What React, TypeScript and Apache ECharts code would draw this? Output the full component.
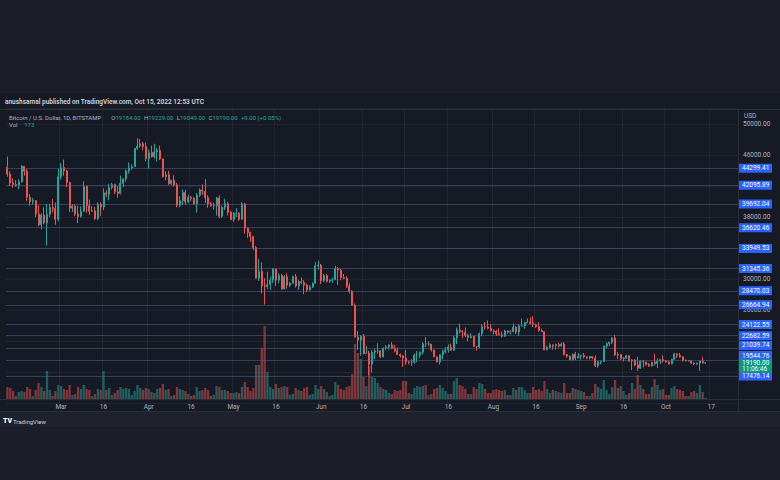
import React, { useEffect, useRef } from "react";
import * as echarts from "echarts";

// ---------- data ----------
const startDate = "2022-02-10";
const axisDays = 259; // Feb 10 .. Oct 26 (empty days to the right)

// [open, high, low, close]
const febOHLC = [
  [44400, 45800, 43200, 43550], [43550, 43900, 42000, 42400], [42400, 43000, 41800, 42200],
  [42200, 42750, 41900, 42100], [42100, 42850, 41600, 42550], [42550, 44700, 42450, 44550],
  [44550, 44550, 43350, 43900], [43900, 44200, 40100, 40550], [40550, 40950, 39450, 40000],
  [40000, 40450, 39650, 40100], [40100, 40150, 38000, 38400], [38400, 39500, 36800, 37000],
  [37000, 38450, 36400, 38250], [38250, 39250, 37050, 37250], [37250, 39700, 34300, 38350],
  [38350, 39700, 38000, 39250], [39250, 40300, 38600, 39100], [39100, 39850, 37000, 37700],
  [37700, 44200, 37450, 43200],
];
const marOHLC = [
  [43200, 44950, 42850, 44400], [44400, 45400, 43350, 43950], [43950, 44100, 41850, 42450],
  [42450, 42550, 38650, 39150], [39150, 39650, 38650, 39400], [39400, 39650, 38100, 38400],
  [38400, 39450, 37200, 38050], [38050, 39350, 37900, 38750], [38750, 42600, 38650, 41950],
  [41950, 42050, 38550, 39450], [39450, 40250, 38250, 38750], [38750, 39400, 38700, 38800],
  [38800, 39300, 37600, 37800], [37800, 39900, 37600, 39650], [39650, 39900, 38150, 39300],
  [39300, 41700, 38900, 41100], [41100, 41450, 40550, 40950], [40950, 42300, 40150, 41800],
  [41800, 42400, 41550, 42200], [42200, 42300, 40950, 41250], [41250, 42000, 40500, 41050],
  [41050, 43350, 40900, 42350], [42350, 43000, 41850, 42900], [42900, 44150, 42550, 43950],
  [43950, 45050, 43600, 44350], [44350, 44800, 44100, 44500], [44500, 46900, 44450, 46850],
  [46850, 48150, 46650, 47150], [47150, 48100, 46950, 47450], [47450, 47700, 46600, 47100],
  [47100, 47600, 45200, 45550],
];
const aprOHLC = [
  [45550, 46700, 44250, 46300], [46300, 47200, 45650, 45800], [45800, 47450, 45550, 46400],
  [46400, 46900, 45150, 46600], [46600, 47200, 45350, 45500], [45500, 45500, 43100, 43200],
  [43200, 43900, 42750, 43450], [43450, 43950, 42150, 42300], [42300, 42800, 42150, 42750],
  [42750, 43400, 41900, 42150], [42150, 42400, 39250, 39500], [39500, 40700, 39250, 40100],
  [40100, 41550, 39550, 41150], [41150, 41500, 39600, 39950], [39950, 40850, 39800, 40550],
  [40550, 40700, 40050, 40400], [40400, 40600, 39600, 39700], [39700, 41100, 38550, 40800],
  [40800, 41700, 40600, 41500], [41500, 42200, 40850, 41350], [41350, 42900, 39800, 40500],
  [40500, 40800, 39200, 39700], [39700, 39950, 39350, 39450], [39450, 39850, 38950, 39450],
  [39450, 40600, 38200, 40450], [40450, 40800, 37850, 38100], [38100, 39450, 37900, 39250],
  [39250, 40350, 38900, 39750], [39750, 39950, 38200, 38600], [38600, 38800, 37600, 37650],
];
const mayOHLC = [
  [37650, 38650, 37400, 38450], [38450, 39150, 38000, 38500], [38500, 38650, 37500, 37700],
  [37700, 39900, 37650, 39700], [39700, 39800, 35850, 36550], [36550, 36650, 35300, 36000],
  [36000, 36100, 34800, 35500], [35500, 35500, 33700, 34050], [34050, 34250, 30050, 30100],
  [30100, 32600, 29750, 31000], [31000, 32150, 28150, 29100], [29100, 30100, 26700, 29050],
  [29050, 30950, 28700, 29300], [29300, 30300, 28600, 29850], [29850, 31400, 29500, 31300],
  [31300, 31300, 29100, 29850], [29850, 30750, 29450, 30450], [30450, 30650, 28650, 28700],
  [28700, 30500, 28700, 30300], [30300, 30750, 28750, 29200], [29200, 29600, 28950, 29450],
  [29450, 30450, 29450, 30300], [30300, 30650, 28900, 29100], [29100, 29850, 28600, 29650],
  [29650, 30200, 29350, 29550], [29550, 29850, 28050, 29200], [29200, 29400, 28300, 28600],
  [28600, 29200, 28500, 28950], [28950, 29550, 28850, 29450], [29450, 32200, 29350, 31700],
  [31700, 32350, 31200, 31800],
];
const junOHLC = [
  [31800, 31950, 29350, 29800], [29800, 30650, 29600, 30450], [30450, 30650, 29550, 29700],
  [29700, 29950, 29500, 29850], [29850, 30150, 29500, 29900], [29900, 31700, 29900, 31350],
  [31350, 31550, 29250, 31150], [31150, 31300, 29850, 30200], [30200, 30650, 29950, 30100],
  [30100, 30350, 28850, 29100], [29100, 29450, 28150, 28400], [28400, 28550, 26600, 26600],
  [26600, 26850, 22600, 22500], [22500, 23300, 20850, 22100], [22100, 22750, 20100, 22600],
  [22600, 22900, 20250, 20400], [20400, 21350, 20300, 20450], [20450, 20750, 17600, 19000],
  [19000, 20800, 17950, 20550], [20550, 21000, 19650, 20700], [20700, 21700, 20350, 20700],
  [20700, 20850, 19800, 19950], [19950, 21150, 19900, 21100], [21100, 21500, 20850, 21250],
  [21250, 21550, 20900, 21500], [21500, 21850, 20950, 21050], [21050, 21500, 20550, 20750],
  [20750, 21150, 20200, 20250], [20250, 20400, 19850, 20100], [20100, 20150, 18650, 19800],
];
const julOHLC = [
  [19800, 20850, 18950, 19300], [19300, 19450, 19000, 19250], [19250, 19650, 18800, 19300],
  [19300, 20350, 19050, 20200], [20200, 20700, 19300, 20200], [20200, 20650, 19800, 20550],
  [20550, 21850, 20250, 21650], [21650, 22500, 21200, 21600], [21600, 21950, 21350, 21600],
  [21600, 21600, 20650, 20850], [20850, 20850, 19900, 19950], [19950, 20050, 19250, 19300],
  [19300, 20300, 18950, 20250], [20250, 20900, 19650, 20600], [20600, 21200, 20400, 20850],
  [20850, 21550, 20500, 21200], [21200, 21650, 20750, 20800], [20800, 22700, 20750, 22400],
  [22400, 23750, 21600, 23400], [23400, 24250, 22950, 23250], [23250, 23400, 22350, 23150],
  [23150, 23750, 22500, 22700], [22700, 22950, 21950, 22450], [22450, 23000, 22300, 22600],
  [22600, 22650, 21250, 21300], [21300, 21350, 20750, 21250], [21250, 23100, 21050, 22950],
  [22950, 24200, 22600, 23850], [23850, 24450, 23450, 23800], [23800, 24650, 23500, 23650],
  [23650, 24200, 23250, 23300],
];
const augOHLC = [
  [23300, 23500, 22850, 23250], [23250, 23450, 22650, 22950], [22950, 23650, 22700, 22800],
  [22800, 23200, 22450, 22600], [22600, 23450, 22600, 23300], [23300, 23350, 22950, 23150],
  [23150, 23400, 22850, 23200], [23200, 24250, 23150, 23800], [23800, 23900, 22900, 23150],
  [23150, 24200, 22650, 23950], [23950, 24900, 23900, 23950], [23950, 24450, 23600, 24400],
  [24400, 24900, 24300, 24450], [24450, 25050, 24150, 24300], [24300, 25200, 23800, 24100],
  [24100, 24250, 23700, 23850], [23850, 24450, 23200, 23350], [23350, 23600, 23150, 23200],
  [23200, 23200, 20800, 20850], [20850, 21400, 20800, 21150], [21150, 21700, 21100, 21500],
  [21500, 21550, 20900, 21400], [21400, 21650, 20900, 21550], [21550, 21800, 21150, 21350],
  [21350, 21800, 21300, 21600], [21600, 21850, 20150, 20250], [20250, 20350, 19850, 20050],
  [20050, 20150, 19550, 19550], [19550, 20400, 19550, 20300], [20300, 20600, 19550, 19800],
  [19800, 20450, 19800, 20050],
];
const sepOHLC = [
  [20050, 20200, 19600, 20150], [20150, 20450, 19750, 19950], [19950, 20000, 19650, 19850],
  [19850, 20050, 19600, 20000], [20000, 20050, 19650, 19800], [19800, 20150, 18650, 18800],
  [18800, 19450, 18550, 19300], [19300, 19450, 19000, 19350], [19350, 21400, 19300, 21350],
  [21350, 21800, 21100, 21650], [21650, 21850, 21350, 21850], [21850, 22500, 21600, 22400],
  [22400, 22800, 20100, 20200], [20200, 20550, 19650, 20250], [20250, 20350, 19550, 19700],
  [19700, 19900, 19350, 19800], [19800, 20200, 19700, 20100], [20100, 20150, 19350, 19400],
  [19400, 19650, 18250, 19550], [19550, 19650, 18750, 18900], [18900, 19950, 18150, 18500],
  [18500, 19500, 18400, 19400], [19400, 19500, 18600, 19300], [19300, 19300, 18850, 18950],
  [18950, 19150, 18650, 18800], [18800, 19300, 18700, 19250], [19250, 20350, 18850, 19100],
  [19100, 19750, 18500, 19400], [19400, 19650, 19050, 19600], [19600, 20150, 19200, 19450],
];
const octOHLC = [
  [19450, 19500, 19200, 19300], [19300, 19400, 18950, 19050], [19050, 19700, 19000, 19650],
  [19650, 20450, 19550, 20350], [20350, 20350, 19800, 20150], [20150, 20450, 19850, 19950],
  [19950, 20050, 19350, 19550], [19550, 19600, 19350, 19450], [19450, 19550, 19350, 19450],
  [19450, 19550, 19050, 19150], [19150, 19250, 18850, 19050], [19050, 19200, 18950, 19150],
  [19150, 19500, 18150, 19400], [19400, 19950, 19100, 19180], [19184, 19229, 19049, 19190],
];

// daily volume, BTC
const febVol = [1800, 1650, 1200, 450, 1050, 1200, 1050, 1800, 1500, 450, 1350, 2400, 1800, 1200, 4200, 1350, 450, 1200, 2100];
const marVol = [1950, 1500, 1350, 2100, 600, 750, 1800, 1500, 2100, 1500, 1350, 450, 750, 1500, 1350, 4200, 1350, 1650, 600, 900, 1350, 1800, 1500, 1650, 1500, 600, 1200, 2100, 1650, 1350, 1650];
const aprVol = [1500, 1050, 900, 1500, 1650, 2250, 1350, 1500, 450, 600, 1800, 1500, 1350, 1200, 750, 450, 600, 1800, 1200, 1350, 1650, 1350, 450, 600, 1950, 1800, 1350, 1350, 1200, 900];
const mayVol = [900, 1050, 900, 1800, 2550, 1800, 1200, 1650, 5100, 5100, 7650, 10950, 4050, 1800, 1500, 2250, 1650, 1800, 1950, 1800, 600, 750, 1650, 1350, 1200, 1650, 1800, 600, 750, 2100, 1500];
const junVol = [1950, 1500, 1050, 450, 600, 2550, 2100, 1500, 1350, 1800, 1950, 3750, 8250, 6900, 6000, 3300, 1950, 4950, 3300, 3150, 2400, 1800, 1500, 1350, 900, 750, 1350, 1200, 1350, 2700];
const julVol = [2700, 900, 750, 1650, 1950, 1800, 1950, 2100, 600, 750, 1500, 1650, 2100, 1650, 1200, 750, 750, 2700, 3150, 2100, 1950, 1500, 750, 750, 1800, 1500, 2400, 2250, 1500, 900, 900];
const augVol = [1350, 1500, 1350, 1200, 1350, 600, 600, 1650, 1350, 1800, 1800, 1350, 900, 900, 1800, 1350, 1500, 1200, 2700, 1500, 900, 1350, 1200, 1050, 900, 2400, 900, 900, 1650, 1500, 1350];
const sepVol = [1200, 1050, 450, 450, 900, 2250, 1800, 1500, 2850, 1350, 750, 1800, 2850, 1650, 1950, 1200, 600, 900, 2400, 1500, 3600, 2100, 1500, 750, 750, 1800, 3000, 2100, 1350, 1500];
const octVol = [600, 600, 1650, 1950, 1500, 1350, 1200, 450, 450, 1050, 1200, 900, 2100, 1050, 173];

const tickDates = ["2022-03-01", "2022-03-16", "2022-04-01", "2022-04-16", "2022-05-01", "2022-05-16", "2022-06-01", "2022-06-16", "2022-07-01", "2022-07-16", "2022-08-01", "2022-08-16", "2022-09-01", "2022-09-16", "2022-10-01", "2022-10-17"];
const tickLabels = ["Mar", "16", "Apr", "16", "May", "16", "Jun", "16", "Jul", "16", "Aug", "16", "Sep", "16", "Oct", "17"];

const priceMin = 14000;
const priceMax = 52000;
const priceStep = 4000;
const priceLabels = [50000, 46000, 38000, 30000, 26000];

const levelValues = [44299.41, 42095.89, 39692.04, 36620.46, 33949.53, 31345.36, 28470.03, 26664.94, 24122.55, 22682.59, 21039.74, 19544.76, 17476.14];
const lastPrice = 19190.0;
const countdown = "11:06:46";

const headerTitle = "anushsamal published on TradingView.com, Oct 15, 2022 12:53 UTC";
const symbolName = "Bitcoin / U.S. Dollar, 1D, BITSTAMP";
const ohlcLast = { O: "19184.00", H: "19229.00", L: "19049.00", C: "19190.00" };
const changeText = "+9.00 (+0.05%)";
const volText = "173";

// ---------- styles ----------
const F = 'Roboto, "Noto Sans", "DejaVu Sans", sans-serif';
const UP = "#26a69a";
const DOWN = "#ef5350";
const UP_VOL = "rgba(38,166,154,0.5)";
const DOWN_VOL = "rgba(239,83,80,0.5)";
const AXIS_TXT = "#b2b5be";
const GRID_LINE = "rgba(255,255,255,0.05)";
const LEVEL_LINE = "rgba(92,108,165,0.45)";
const BORDER = "#2a2e39";

export default function App() {
  const ref = useRef<HTMLDivElement>(null);

  useEffect(() => {
    if (!ref.current) return;
    const chart = echarts.init(ref.current, null, { renderer: "svg" });

    const dates: string[] = [];
    const d0 = new Date(startDate + "T00:00:00Z").getTime();
    for (let i = 0; i < axisDays; i++) {
      dates.push(new Date(d0 + i * 86400000).toISOString().slice(0, 10));
    }

    const ohlc = [...febOHLC, ...marOHLC, ...aprOHLC, ...mayOHLC, ...junOHLC, ...julOHLC, ...augOHLC, ...sepOHLC, ...octOHLC];
    const vols = [...febVol, ...marVol, ...aprVol, ...mayVol, ...junVol, ...julVol, ...augVol, ...sepVol, ...octVol];

    const candleData = ohlc.map(([o, h, l, c]) => [o, c, l, h]);
    const volData = vols.map((v, i) => {
      const k = ohlc[i];
      const up = k ? k[3] >= k[0] : true;
      return { value: v, itemStyle: { color: up ? UP_VOL : DOWN_VOL } };
    });

    // label vertical nudges (px, upward) like TradingView's overlap avoidance
    const nudge: Record<number, number> = { 10: 6, 11: 9 };

    const boxRich = {
      t: {
        backgroundColor: "#2962ff",
        color: "#ffffff",
        fontSize: 6.5,
        fontFamily: F,
        lineHeight: 7,
        width: 27,
        padding: [1, 3, 1, 3],
      },
      g: {
        backgroundColor: "#089981",
        color: "#ffffff",
        fontSize: 6.5,
        fontFamily: F,
        lineHeight: 6.5,
        width: 27,
        padding: [0, 3, 0, 3],
      },
      s6: { height: 6, lineHeight: 6 },
      s9: { height: 9, lineHeight: 9 },
      s7: { height: 6.5, lineHeight: 6.5 },
    };

    const markData: any[] = levelValues.map((v, i) => {
      const n = nudge[i];
      const txt = `{t|${v.toFixed(2)}}` + (n ? `\n{s${n}|}` : "");
      return { yAxis: v, label: { formatter: txt } };
    });
    markData.push({
      yAxis: lastPrice,
      lineStyle: { color: "rgba(0,0,0,0)", width: 0 },
      label: { formatter: `{s7|}\n{g|${lastPrice.toFixed(2)}}\n{g|${countdown}}` },
    });

    const isTick = (_i: number, v: string) => tickDates.indexOf(v) >= 0;

    const option: any = {
      animation: false,
      backgroundColor: "#1b1e29",
      textStyle: { fontFamily: F },
      grid: [
        { left: 6, right: 42, top: 108.5, bottom: 77 },
        { left: 6, right: 42, top: 299, bottom: 81 },
      ],
      xAxis: [
        {
          type: "category",
          gridIndex: 0,
          data: dates,
          boundaryGap: true,
          axisLine: { show: false },
          axisTick: { show: false },
          axisLabel: { show: false },
          splitLine: { show: true, interval: isTick, lineStyle: { color: GRID_LINE, width: 1 } },
        },
        {
          type: "category",
          gridIndex: 1,
          data: dates,
          boundaryGap: true,
          axisLine: { show: false },
          axisTick: { show: false },
          splitLine: { show: false },
          axisLabel: {
            interval: isTick,
            formatter: (v: string) => {
              const k = tickDates.indexOf(v);
              return k >= 0 ? tickLabels[k] : "";
            },
            color: AXIS_TXT,
            fontSize: 6.5,
            fontFamily: F,
            margin: 4.5,
          },
        },
      ],
      yAxis: [
        {
          type: "value",
          gridIndex: 0,
          position: "right",
          min: priceMin,
          max: priceMax,
          interval: priceStep,
          axisLine: { show: false },
          axisTick: { show: false },
          axisLabel: {
            formatter: (v: number) => (priceLabels.indexOf(v) >= 0 ? v.toFixed(2) : ""),
            color: AXIS_TXT,
            fontSize: 6.5,
            fontFamily: F,
            margin: 5,
          },
          splitLine: { show: true, lineStyle: { color: GRID_LINE, width: 1 } },
        },
        { type: "value", gridIndex: 1, min: 0, max: 15000, show: false },
      ],
      series: [
        {
          type: "bar",
          xAxisIndex: 1,
          yAxisIndex: 1,
          data: volData,
          barWidth: "82%",
          z: 1,
        },
        {
          type: "candlestick",
          xAxisIndex: 0,
          yAxisIndex: 0,
          data: candleData,
          barWidth: 1.5,
          z: 3,
          itemStyle: {
            color: UP,
            color0: DOWN,
            borderColor: UP,
            borderColor0: DOWN,
            borderWidth: 1,
          },
          markLine: {
            silent: true,
            symbol: "none",
            animation: false,
            precision: 2,
            lineStyle: { color: LEVEL_LINE, width: 1, type: "solid" },
            label: { show: true, position: "end", distance: 1, rich: boxRich },
            emphasis: { disabled: true },
            data: markData,
          },
        },
      ],
      graphic: {
        elements: [
          { type: "rect", z: -10, silent: true, shape: { x: 0, y: 93, width: 780, height: 334 }, style: { fill: "#161a25" } },
          { type: "rect", z: -9, silent: true, shape: { x: 0, y: 412, width: 780, height: 15 }, style: { fill: "#1e222d" } },
          { type: "line", z: 5, silent: true, shape: { x1: 0, y1: 109.5, x2: 780, y2: 109.5 }, style: { stroke: BORDER, lineWidth: 1 } },
          { type: "line", z: 5, silent: true, shape: { x1: 738.5, y1: 109.5, x2: 738.5, y2: 412 }, style: { stroke: BORDER, lineWidth: 1 } },
          { type: "line", z: 5, silent: true, shape: { x1: 0, y1: 399.5, x2: 780, y2: 399.5 }, style: { stroke: BORDER, lineWidth: 1 } },
          { type: "line", z: 5, silent: true, shape: { x1: 0, y1: 411.5, x2: 780, y2: 411.5 }, style: { stroke: BORDER, lineWidth: 1 } },
          {
            type: "text", z: 10, silent: true, x: 5, y: 102,
            style: { text: headerTitle, fill: "#d1d4dc", fontSize: 6.5, fontWeight: 600, fontFamily: F, verticalAlign: "middle" },
          },
          {
            type: "text", z: 10, silent: true, x: 9, y: 117,
            style: {
              text: `{n|${symbolName}}   {k|O}{v|${ohlcLast.O}} {k|H}{v|${ohlcLast.H}} {k|L}{v|${ohlcLast.L}} {k|C}{v|${ohlcLast.C}} {v|${changeText}}`,
              verticalAlign: "middle",
              rich: {
                n: { fill: "#b2b5be", fontSize: 6, fontFamily: F },
                k: { fill: "#b2b5be", fontSize: 6, fontFamily: F },
                v: { fill: UP, fontSize: 6, fontFamily: F },
              },
            },
          },
          {
            type: "text", z: 10, silent: true, x: 9, y: 124.5,
            style: {
              text: `{k|Vol}  {v|${volText}}`,
              verticalAlign: "middle",
              rich: {
                k: { fill: "#b2b5be", fontSize: 6, fontFamily: F },
                v: { fill: UP, fontSize: 6, fontFamily: F },
              },
            },
          },
          {
            type: "text", z: 10, silent: true, x: 744, y: 116,
            style: { text: "USD", fill: AXIS_TXT, fontSize: 6.5, fontFamily: F, verticalAlign: "middle" },
          },
          {
            type: "text", z: 10, silent: true, x: 3, y: 421,
            style: { text: "TV", fill: "#ffffff", fontSize: 7, fontWeight: 900, fontFamily: F, verticalAlign: "middle" },
          },
          {
            type: "text", z: 10, silent: true, x: 13, y: 421,
            style: { text: "TradingView", fill: "#d1d4dc", fontSize: 6, fontFamily: F, verticalAlign: "middle" },
          },
        ],
      },
    };

    chart.setOption(option);
    return () => chart.dispose();
  }, []);

  return <div ref={ref} style={{ position: "absolute", left: 0, top: 0, width: 780, height: 480 }} />;
}
